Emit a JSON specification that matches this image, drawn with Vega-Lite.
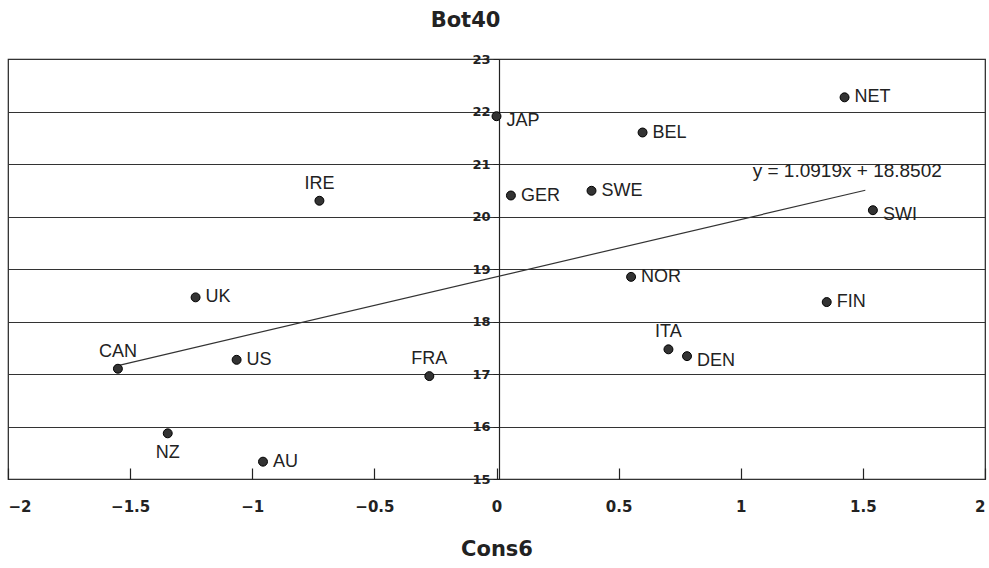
{
  "$schema": "https://vega.github.io/schema/vega-lite/v6.json",
  "width": 977,
  "height": 420,
  "autosize": {"type": "none"},
  "padding": {"left": 8, "top": 59, "right": 4, "bottom": 89},
  "background": "white",
  "config": {
    "view": {"stroke": "#222", "strokeWidth": 1.2},
    "font": "Liberation Sans"
  },
  "title": {
    "text": "Bot40",
    "fontSize": 21,
    "fontWeight": "bold",
    "font": "DejaVu Sans",
    "color": "#222",
    "offset": 22,
    "dx": -31
  },
  "datasets": {
    "countries": [
      {"country": "NET", "cons6": 1.425, "bot40": 22.27},
      {"country": "JAP", "cons6": 0.0, "bot40": 21.91},
      {"country": "BEL", "cons6": 0.598, "bot40": 21.6},
      {"country": "IRE", "cons6": -0.725, "bot40": 20.3},
      {"country": "GER", "cons6": 0.059, "bot40": 20.4},
      {"country": "SWE", "cons6": 0.389, "bot40": 20.49},
      {"country": "SWI", "cons6": 1.541, "bot40": 20.12},
      {"country": "UK", "cons6": -1.232, "bot40": 18.46},
      {"country": "NOR", "cons6": 0.551, "bot40": 18.85},
      {"country": "FIN", "cons6": 1.352, "bot40": 18.37},
      {"country": "CAN", "cons6": -1.55, "bot40": 17.1},
      {"country": "US", "cons6": -1.064, "bot40": 17.27},
      {"country": "FRA", "cons6": -0.275, "bot40": 16.96},
      {"country": "ITA", "cons6": 0.704, "bot40": 17.47},
      {"country": "DEN", "cons6": 0.78, "bot40": 17.34},
      {"country": "NZ", "cons6": -1.346, "bot40": 15.87},
      {"country": "AU", "cons6": -0.956, "bot40": 15.33}
    ],
    "trend": [
      {"cons6": -1.55, "bot40": 17.16},
      {"cons6": 1.51, "bot40": 20.5}
    ],
    "equation": [
      {"cons6": 1.049, "bot40": 20.87, "label": "y = 1.0919x + 18.8502"}
    ]
  },
  "encoding": {
    "x": {
      "field": "cons6",
      "type": "quantitative",
      "scale": {"domain": [-2, 2], "nice": false, "zero": false},
      "axis": {
        "values": [-2, -1.5, -1, -0.5, 0, 0.5, 1, 1.5, 2],
        "format": "~g",
        "tickSize": -11,
        "tickColor": "#222",
        "tickWidth": 1.2,
        "domain": false,
        "grid": false,
        "labelFont": "DejaVu Sans",
        "labelFontWeight": "bold",
        "labelFontSize": 15,
        "labelColor": "#222",
        "labelPadding": 31,
        "labelFlush": true,
        "title": "Cons6",
        "titleFont": "DejaVu Sans",
        "titleFontSize": 21,
        "titleFontWeight": "bold",
        "titleColor": "#222",
        "titlePadding": 24
      }
    },
    "y": {
      "field": "bot40",
      "type": "quantitative",
      "scale": {"domain": [15, 23], "nice": false, "zero": false},
      "axis": {
        "values": [15, 16, 17, 18, 19, 20, 21, 22, 23],
        "orient": "left",
        "offset": -491,
        "tickSize": 6,
        "tickColor": "#222",
        "labelPadding": 3,
        "labelFont": "DejaVu Sans",
        "labelFontWeight": "bold",
        "labelFontSize": 13,
        "labelColor": "#222",
        "domainColor": "#222",
        "domainWidth": 1.2,
        "grid": true,
        "gridColor": "#333",
        "gridWidth": 1.1,
        "gridOpacity": 1,
        "title": null
      }
    }
  },
  "layer": [
    {
      "data": {"name": "trend"},
      "mark": {"type": "line", "color": "#333", "strokeWidth": 1.2}
    },
    {
      "data": {"name": "countries"},
      "mark": {"type": "point", "filled": true, "fill": "#333", "stroke": "#000", "strokeWidth": 1, "size": 80, "opacity": 1}
    },
    {
      "data": {"name": "countries"},
      "transform": [{"filter": {"field": "country", "oneOf": ["NET", "BEL", "GER", "SWE", "UK", "US", "AU", "NOR", "FIN"]}}],
      "mark": {"type": "text", "align": "left", "baseline": "middle", "dx": 10, "fontSize": 18, "color": "#222"},
      "encoding": {"text": {"field": "country"}}
    },
    {
      "data": {"name": "countries"},
      "transform": [{"filter": {"field": "country", "oneOf": ["JAP", "SWI", "DEN"]}}],
      "mark": {"type": "text", "align": "left", "baseline": "middle", "dx": 10, "dy": 5, "fontSize": 18, "color": "#222"},
      "encoding": {"text": {"field": "country"}}
    },
    {
      "data": {"name": "countries"},
      "transform": [{"filter": {"field": "country", "oneOf": ["IRE", "CAN", "FRA", "ITA"]}}],
      "mark": {"type": "text", "align": "center", "baseline": "middle", "dy": -17, "fontSize": 18, "color": "#222"},
      "encoding": {"text": {"field": "country"}}
    },
    {
      "data": {"name": "countries"},
      "transform": [{"filter": {"field": "country", "oneOf": ["NZ"]}}],
      "mark": {"type": "text", "align": "center", "baseline": "middle", "dy": 20, "fontSize": 18, "color": "#222"},
      "encoding": {"text": {"field": "country"}}
    },
    {
      "data": {"name": "equation"},
      "mark": {"type": "text", "align": "left", "baseline": "middle", "fontSize": 19, "color": "#222"},
      "encoding": {"text": {"field": "label"}}
    }
  ]
}
